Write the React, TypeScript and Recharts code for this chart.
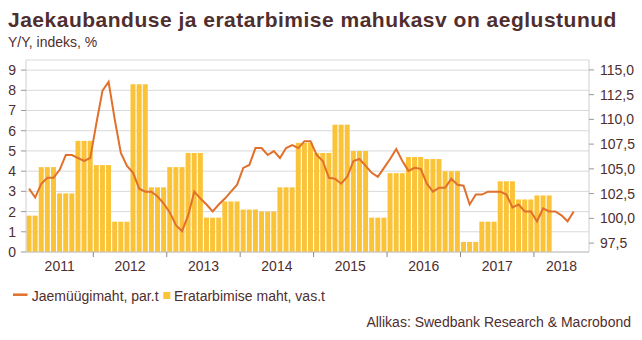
import React from 'react';
import { ComposedChart, Bar, Line, XAxis, YAxis, CartesianGrid } from 'recharts';

const W = 642;
const H = 340;
const FONT = '"Liberation Sans", Arial, sans-serif';
const TEXT = '#4f2e2e';
const BAR = '#fbc338';
const LINE = '#e0702b';

// plot area runs from Feb 2011 to Sep 2018, one category per month
const FIRST = { year: 2011, month: 2 };
const LAST = { year: 2018, month: 9 };

// private consumption y/y %, quarterly (Q1 2011 .. Q1 2018), left axis
const QUARTERS = [
  '2011Q1', '2011Q2', '2011Q3', '2011Q4',
  '2012Q1', '2012Q2', '2012Q3', '2012Q4',
  '2013Q1', '2013Q2', '2013Q3', '2013Q4',
  '2014Q1', '2014Q2', '2014Q3', '2014Q4',
  '2015Q1', '2015Q2', '2015Q3', '2015Q4',
  '2016Q1', '2016Q2', '2016Q3', '2016Q4',
  '2017Q1', '2017Q2', '2017Q3', '2017Q4',
  '2018Q1',
];
const CONSUMPTION = [
  1.8, 4.2, 2.9, 5.5,
  4.3, 1.5, 8.3, 3.2,
  4.2, 4.9, 1.7, 2.5,
  2.1, 2.0, 3.2, 5.4,
  4.9, 6.3, 5.0, 1.7,
  3.9, 4.7, 4.6, 4.0,
  0.5, 1.5, 3.5, 2.6,
  2.8,
];

// retail volume index, monthly from Feb 2011 to Jul 2018, right axis
const RETAIL = [
  103.0, 102.1, 103.5, 104.1, 104.1, 104.9, 106.4, 106.4, 106.1, 105.8, 106.1,
  109.6, 112.9, 113.8, 110.0, 106.6, 105.3, 104.6, 103.0, 102.7, 102.7, 102.2, 101.5,
  100.6, 99.3, 98.7, 100.3, 102.7, 102.0, 101.4, 100.7, 101.4, 102.0, 102.7, 103.4,
  105.1, 105.4, 107.1, 107.1, 106.4, 106.8, 106.1, 107.1, 107.4, 107.1, 107.8, 107.8,
  106.4, 105.8, 104.1, 104.0, 103.5, 104.2, 105.8, 106.0, 105.3, 104.6, 104.2, 105.1,
  106.0, 107.0, 105.8, 104.8, 105.1, 105.0, 103.5, 102.7, 103.1, 103.1, 104.0, 103.4,
  103.3, 101.4, 102.4, 102.4, 102.7, 102.7, 102.7, 102.4, 101.1, 101.4, 100.7, 100.7,
  99.7, 101.0, 100.7, 100.7, 100.3, 99.7, 100.7,
];

const LEFT_TICKS = [0, 1, 2, 3, 4, 5, 6, 7, 8, 9];
const RIGHT_TICKS = [97.5, 100, 102.5, 105, 107.5, 110, 112.5, 115];

const MONTHS: string[] = [];
for (let y = FIRST.year, m = FIRST.month; y < LAST.year || (y === LAST.year && m <= LAST.month); ) {
  MONTHS.push(`${y}-${String(m).padStart(2, '0')}`);
  m++;
  if (m > 12) { m = 1; y++; }
}

const data = MONTHS.map((key, i) => {
  const [y, m] = key.split('-').map(Number);
  const q = QUARTERS.indexOf(`${y}Q${Math.ceil(m / 3)}`);
  return {
    month: key,
    consumption: q >= 0 ? CONSUMPTION[q] : null,
    retail: i < RETAIL.length ? RETAIL[i] : null,
  };
});

const YEAR_TICKS = MONTHS.filter((k, i) => i === 0 || k.endsWith('-01'));

const MARGIN = { top: 60, right: 0, bottom: 68, left: 8 };
const LEFT_W = 18;
const RIGHT_W = 53;
const PLOT_W = W - MARGIN.left - MARGIN.right - LEFT_W - RIGHT_W;

function YearTick({ x, y, payload }: any) {
  const [yr, mo] = String(payload.value).split('-').map(Number);
  const bw = PLOT_W / MONTHS.length;
  const visible = MONTHS.filter((k) => k.startsWith(`${yr}-`)).length;
  const labelX = x + ((visible - 1) / 2) * bw;
  const edge = x - bw / 2;
  return (
    <g>
      {mo === 1 && <line x1={edge} x2={edge} y1={y} y2={y + 5} stroke="#8a8a8a" />}
      <text x={labelX} y={y + 19} textAnchor="middle" fontSize={14} fill={TEXT}>
        {yr}
      </text>
    </g>
  );
}

const fmtRight = (v: number) => v.toFixed(1).replace('.', ',');

export default function App() {
  return (
    <div style={{ position: 'absolute', left: 0, top: 0, width: W, height: H, background: '#fff', fontFamily: FONT, overflow: 'hidden' }}>
      <ComposedChart width={W} height={H} data={data} margin={MARGIN} barCategoryGap={0.5}>
        <CartesianGrid yAxisId="left" vertical={false} stroke="#d9d9d9" />
        <XAxis
          dataKey="month"
          ticks={YEAR_TICKS}
          interval={0}
          tick={<YearTick />}
          tickSize={0}
          tickMargin={0}
          tickLine={false}
          height={20}
          axisLine={{ stroke: '#c4c4c4' }}
        />
        <YAxis
          yAxisId="left"
          width={LEFT_W}
          domain={[0, 9.5]}
          ticks={LEFT_TICKS}
          interval={0}
          tickSize={5}
          tickMargin={5}
          tick={{ fontSize: 14, fill: TEXT }}
          tickLine={{ stroke: '#9a9a9a' }}
          axisLine={{ stroke: '#d0d0d0' }}
        />
        <YAxis
          yAxisId="right"
          orientation="right"
          width={RIGHT_W}
          domain={[96.6, 116]}
          ticks={RIGHT_TICKS}
          interval={0}
          tickFormatter={fmtRight}
          tickSize={5}
          tickMargin={6}
          tick={{ fontSize: 14, fill: TEXT }}
          tickLine={{ stroke: '#9a9a9a' }}
          axisLine={{ stroke: '#d0d0d0' }}
        />
        <Bar yAxisId="left" dataKey="consumption" fill={BAR} isAnimationActive={false} />
        <Line
          yAxisId="right"
          dataKey="retail"
          type="linear"
          stroke={LINE}
          strokeWidth={2}
          dot={false}
          activeDot={false}
          isAnimationActive={false}
        />
      </ComposedChart>
      <svg width={W} height={H} style={{ position: 'absolute', left: 0, top: 0, pointerEvents: 'none' }}>
        <text x={8} y={27.3} fontSize={21} fontWeight="bold" letterSpacing={0.5} fill={TEXT}>
          Jaekaubanduse ja eratarbimise mahukasv on aeglustunud
        </text>
        <text x={8} y={47} fontSize={14} fill={TEXT}>Y/Y, indeks, %</text>
        <line x1={13} x2={27.5} y1={294.7} y2={294.7} stroke={LINE} strokeWidth={2.5} />
        <text x={31.7} y={300.5} fontSize={14} fill={TEXT}>Jaemüügimaht, par.t</text>
        <rect x={163.3} y={292} width={7} height={7} fill={BAR} />
        <text x={174} y={300.5} fontSize={14} fill={TEXT}>Eratarbimise maht, vas.t</text>
        <text x={631} y={326.7} fontSize={14} textAnchor="end" fill={TEXT}>
          Allikas: Swedbank Research &amp; Macrobond
        </text>
      </svg>
    </div>
  );
}
